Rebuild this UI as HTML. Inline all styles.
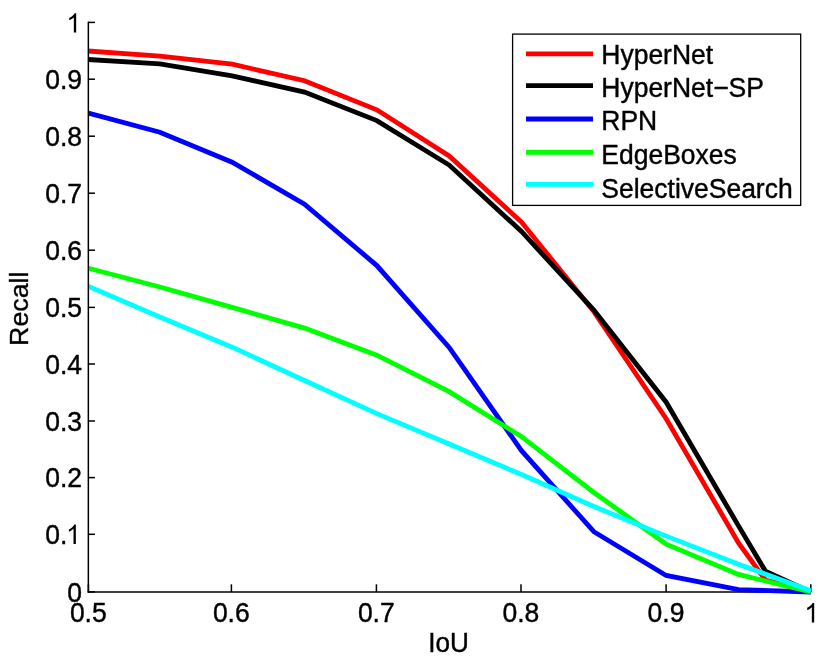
<!DOCTYPE html>
<html><head><meta charset="utf-8"><title>Recall vs IoU</title>
<style>
html,body{margin:0;padding:0;background:#fff;}
body{width:830px;height:669px;overflow:hidden;}
svg{display:block;will-change:transform;}
text{font-family:"Liberation Sans",sans-serif;fill:#000;stroke:#000;stroke-width:0.4px;stroke-linejoin:round;}
</style></head><body>
<svg width="830" height="669" viewBox="0 0 830 669">
<rect x="0" y="0" width="830" height="669" fill="#fff"/>
<defs><clipPath id="plot"><rect x="88" y="15" width="723" height="582"/></clipPath></defs>

<g stroke="#000" stroke-width="1.5" fill="none">
<line x1="87.65" y1="592.0" x2="811.2" y2="592.0"/>
<line x1="88.4" y1="592" x2="88.4" y2="584.3"/>
<line x1="231.4" y1="592" x2="231.4" y2="584.3"/>
<line x1="376.4" y1="592" x2="376.4" y2="584.3"/>
<line x1="521.0" y1="592" x2="521.0" y2="584.3"/>
<line x1="666.1" y1="592" x2="666.1" y2="584.3"/>
<line x1="810.8" y1="592" x2="810.8" y2="584.3"/>
</g>
<g clip-path="url(#plot)" fill="none" stroke-width="4.8" stroke-linejoin="miter" stroke-linecap="butt">
<polyline points="87.50,50.96 159.84,56.09 232.17,64.18 304.51,80.71 376.84,109.78 449.18,155.95 521.51,222.07 593.85,311.56 666.18,418.72 738.51,542.98 765.40,580.03 810.85,592.00" stroke="#ff0000"/>
<polyline points="87.50,59.45 159.84,63.89 232.17,75.87 304.51,92.11 376.84,120.61 449.18,165.07 521.51,231.48 593.85,310.13 666.18,402.19 738.51,525.88 765.40,571.08 810.85,592.00" stroke="#000000"/>
<polyline points="87.50,112.80 159.84,132.30 232.17,162.22 304.51,204.12 376.84,265.56 449.18,347.47 521.51,450.64 593.85,531.69 666.18,575.47 738.51,589.72 810.85,592.00" stroke="#0000ff"/>
<polyline points="87.50,268.01 159.84,287.05 232.17,307.40 304.51,328.09 376.84,355.17 449.18,391.70 521.51,436.67 593.85,492.48 666.18,544.12 738.51,574.39 810.85,592.00" stroke="#00ff00"/>
<polyline points="87.50,286.02 159.84,316.98 232.17,347.19 304.51,380.53 376.84,413.59 449.18,444.03 521.51,474.52 593.85,506.50 666.18,536.14 738.51,564.24 810.85,590.86" stroke="#00ffff"/>
</g>
<g stroke="#000" stroke-width="1.5" fill="none">
<line x1="88.35" y1="21.7" x2="88.35" y2="592.7"/>
<line x1="88" y1="591.9" x2="95.0" y2="591.9"/>
<line x1="88" y1="534.3" x2="95.0" y2="534.3"/>
<line x1="88" y1="477.6" x2="95.0" y2="477.6"/>
<line x1="88" y1="421.0" x2="95.0" y2="421.0"/>
<line x1="88" y1="364.0" x2="95.0" y2="364.0"/>
<line x1="88" y1="307.4" x2="95.0" y2="307.4"/>
<line x1="88" y1="250.2" x2="95.0" y2="250.2"/>
<line x1="88" y1="193.2" x2="95.0" y2="193.2"/>
<line x1="88" y1="136.2" x2="95.0" y2="136.2"/>
<line x1="88" y1="79.2" x2="95.0" y2="79.2"/>
<line x1="88" y1="22.4" x2="95.0" y2="22.4"/>
</g>
<g font-size="26.5">
<text transform="translate(82.00,601.60) scale(1,1.04)" text-anchor="end">0</text>
<text transform="translate(67.27,544.00) scale(1,1.04)" text-anchor="end">0.</text>
<path d="M763 0H583V1147Q518 1085 412.5 1023Q307 961 223 930V1104Q374 1175 487 1276Q600 1377 647 1472H763Z" fill="#000" transform="translate(65.97,544.00) scale(0.01294,-0.01320)"/>
<text transform="translate(82.00,487.30) scale(1,1.04)" text-anchor="end">0.2</text>
<text transform="translate(82.00,430.70) scale(1,1.04)" text-anchor="end">0.3</text>
<text transform="translate(82.00,373.70) scale(1,1.04)" text-anchor="end">0.4</text>
<text transform="translate(82.00,317.10) scale(1,1.04)" text-anchor="end">0.5</text>
<text transform="translate(82.00,259.90) scale(1,1.04)" text-anchor="end">0.6</text>
<text transform="translate(82.00,202.90) scale(1,1.04)" text-anchor="end">0.7</text>
<text transform="translate(82.00,145.90) scale(1,1.04)" text-anchor="end">0.8</text>
<text transform="translate(82.00,88.90) scale(1,1.04)" text-anchor="end">0.9</text>
<path d="M763 0H583V1147Q518 1085 412.5 1023Q307 961 223 930V1104Q374 1175 487 1276Q600 1377 647 1472H763Z" fill="#000" transform="translate(66.30,32.60) scale(0.01294,-0.01320)"/>
<text transform="translate(88.30,622.40) scale(1,1.04)" text-anchor="middle">0.5</text>
<text transform="translate(231.30,622.40) scale(1,1.04)" text-anchor="middle">0.6</text>
<text transform="translate(376.30,622.40) scale(1,1.04)" text-anchor="middle">0.7</text>
<text transform="translate(520.90,622.40) scale(1,1.04)" text-anchor="middle">0.8</text>
<text transform="translate(666.00,622.40) scale(1,1.04)" text-anchor="middle">0.9</text>
<path d="M763 0H583V1147Q518 1085 412.5 1023Q307 961 223 930V1104Q374 1175 487 1276Q600 1377 647 1472H763Z" fill="#000" transform="translate(804.30,622.40) scale(0.01294,-0.01320)"/>
<text transform="translate(448.50,652.00) scale(0.985,1.04)" text-anchor="middle">IoU</text>
<text transform="translate(28.40,308.70) rotate(-90) scale(1.012,0.965)" text-anchor="middle">Recall</text>
</g>
<rect x="512.6" y="34.1" width="288.1" height="171.3" fill="#fff" stroke="#000" stroke-width="1.3"/>
<g font-size="26.5">
<line x1="526" y1="53.9" x2="593" y2="53.9" stroke="#ff0000" stroke-width="4.8"/>
<text transform="translate(601.30,64.30) scale(1,1.04)" text-anchor="start">HyperNet</text>
<line x1="526" y1="85.7" x2="593" y2="85.7" stroke="#000000" stroke-width="4.8"/>
<text transform="translate(601.30,97.30) scale(1,1.04)" text-anchor="start">HyperNet−SP</text>
<line x1="526" y1="119.0" x2="593" y2="119.0" stroke="#0000ff" stroke-width="4.8"/>
<text transform="translate(601.30,130.40) scale(1,1.04)" text-anchor="start">RPN</text>
<line x1="526" y1="152.4" x2="593" y2="152.4" stroke="#00ff00" stroke-width="4.8"/>
<text transform="translate(601.30,164.30) scale(1,1.04)" text-anchor="start">EdgeBoxes</text>
<line x1="526" y1="184.3" x2="593" y2="184.3" stroke="#00ffff" stroke-width="4.8"/>
<text transform="translate(601.30,197.60) scale(1,1.04)" text-anchor="start">SelectiveSearch</text>
</g>
</svg></body></html>
